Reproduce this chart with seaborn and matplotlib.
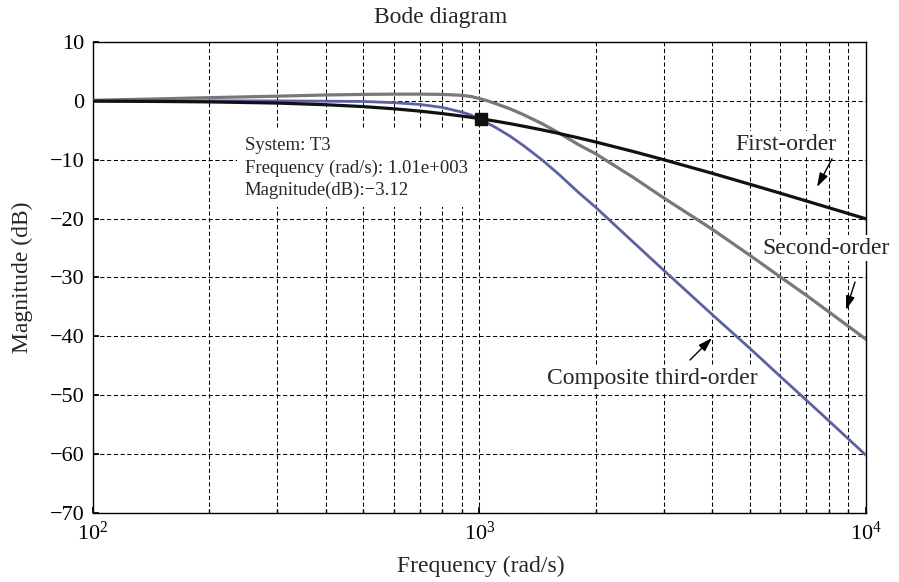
import matplotlib
matplotlib.use("Agg")
import matplotlib.pyplot as plt
import numpy as np
import pandas as pd
import seaborn as sns

freq = [100, 150, 200, 300, 400, 500, 600, 700, 800, 900, 950, 1000, 1050, 1100,
        1200, 1300, 1450, 1600, 1800, 2000, 2500, 3000, 4000, 5000, 6000, 7000, 8000, 10000]

# magnitude (dB) of each response
mag_first = [-0.04, -0.10, -0.17, -0.37, -0.65, -0.97, -1.34, -1.73, -2.15, -2.58, -2.79, -3.01,
             -3.23, -3.44, -3.87, -4.30, -4.92, -5.51, -6.27, -6.99, -8.60, -10.0, -12.3,
             -14.15, -15.68, -16.99, -18.13, -20.04]
mag_second = [0.1, 0.35, 0.55, 0.8, 1.0, 1.1, 1.15, 1.15, 1.1, 0.95, 0.75, 0.4, 0.0, -0.45,
              -1.35, -2.35, -3.85, -5.4, -7.4, -9.0, -13.0, -16.5, -21.8, -26.2, -29.9, -33.0,
              -35.8, -40.5]
mag_third = [0.0, 0.0, 0.0, 0.0, -0.05, -0.1, -0.3, -0.6, -1.1, -1.9, -2.4, -3.1, -3.8, -4.5,
             -6.0, -7.6, -10.0, -12.4, -15.5, -18.1, -24.0, -28.8, -36.3, -42.0, -46.8, -50.8,
             -54.3, -60.2]

# data tip
tip_freq = 1010
tip_mag = -3.12

sns.set_theme(style="white")
plt.rcParams['font.family'] = ['Liberation Serif', 'DejaVu Serif']
plt.rcParams['mathtext.fontset'] = 'custom'
plt.rcParams['mathtext.rm'] = 'Liberation Serif'
plt.rcParams['mathtext.it'] = 'Liberation Serif:italic'
plt.rcParams['mathtext.bf'] = 'Liberation Serif:bold'

df = pd.DataFrame({"freq": freq, "first": mag_first,
                   "second": mag_second, "third": mag_third})

fig = plt.figure(figsize=(8.99, 5.82), dpi=100)
ax = fig.add_axes([0.1034, 0.1186, 0.8599, 0.8092])
ax.set_xscale("log")

sns.lineplot(data=df, x="freq", y="second", ax=ax, color="#787878", lw=2.3, zorder=3)
sns.lineplot(data=df, x="freq", y="third", ax=ax, color="#5a62a3", lw=2.0, zorder=4)
sns.lineplot(data=df, x="freq", y="first", ax=ax, color="#111111", lw=2.3, zorder=5)
ax.plot([tip_freq], [tip_mag], marker="s", ms=8, color="#111111", zorder=6)

ax.set_xlim(100, 10000)
ax.set_ylim(-70, 10)
ax.set_yticks(np.arange(-70, 11, 10))
ax.set_xlabel("")
ax.set_ylabel("")

# dashed grid, minor lines on the frequency axis too
dash = (0, (4, 2.5))
ax.grid(True, which="major", axis="both", color="black", lw=0.75, ls=dash)
ax.grid(True, which="minor", axis="x", color="black", lw=0.75, ls=dash)
ax.set_axisbelow(True)

for s in ax.spines.values():
    s.set_color("black")
    s.set_linewidth(1.0)

ax.tick_params(axis="both", which="both", direction="in", colors="black",
               bottom=True, left=True, top=False, right=False)
ax.tick_params(axis="both", which="major", length=4, labelsize=16, pad=6)
ax.tick_params(axis="x", which="minor", length=3, labelbottom=False)

# text labels
fig.text(0.4905, 1 - 17 / 582, "Bode diagram", ha="center", va="center", fontsize=17)
fig.text(0.535, 1 - 566 / 582, "Frequency (rad/s)", ha="center", va="center", fontsize=17)
fig.text(22 / 899, 1 - 277 / 582, "Magnitude (dB)", ha="center", va="center",
         rotation=90, fontsize=17)

white = dict(facecolor="white", edgecolor="none", pad=2)
arrow = dict(arrowstyle="-|>,head_length=0.7,head_width=0.22", color="black", lw=1.0,
             shrinkA=0, shrinkB=0)

ax.text(0.8965, 0.7834, "First-order", transform=ax.transAxes, ha="center", va="center",
        fontsize=17, bbox=white, zorder=7)
ax.annotate("", xy=(0.9366, 0.6921), xytext=(0.956, 0.7516), xycoords="axes fraction",
            arrowprops=arrow, zorder=7)

ax.text(0.9489, 0.5626, "Second-order", transform=ax.transAxes, ha="center", va="center",
        fontsize=17, bbox=white, zorder=7, clip_on=False)
ax.annotate("", xy=(0.9741, 0.431), xytext=(0.9858, 0.4904), xycoords="axes fraction",
            arrowprops=arrow, zorder=7)

ax.text(0.7238, 0.2845, "Composite third-order", transform=ax.transAxes, ha="center",
        va="center", fontsize=17, bbox=white, zorder=7)
ax.annotate("", xy=(0.8008, 0.3715), xytext=(0.7723, 0.3248), xycoords="axes fraction",
            arrowprops=arrow, zorder=7)

ax.text(0.1966, 0.7325,
        "System: T3\nFrequency (rad/s): 1.01e+003\nMagnitude(dB):\u22123.12",
        transform=ax.transAxes, ha="left", va="center", fontsize=13.5, linespacing=1.4,
        bbox=dict(facecolor="white", edgecolor="none", pad=6), zorder=7)

fig.savefig("out.png", dpi=100)
